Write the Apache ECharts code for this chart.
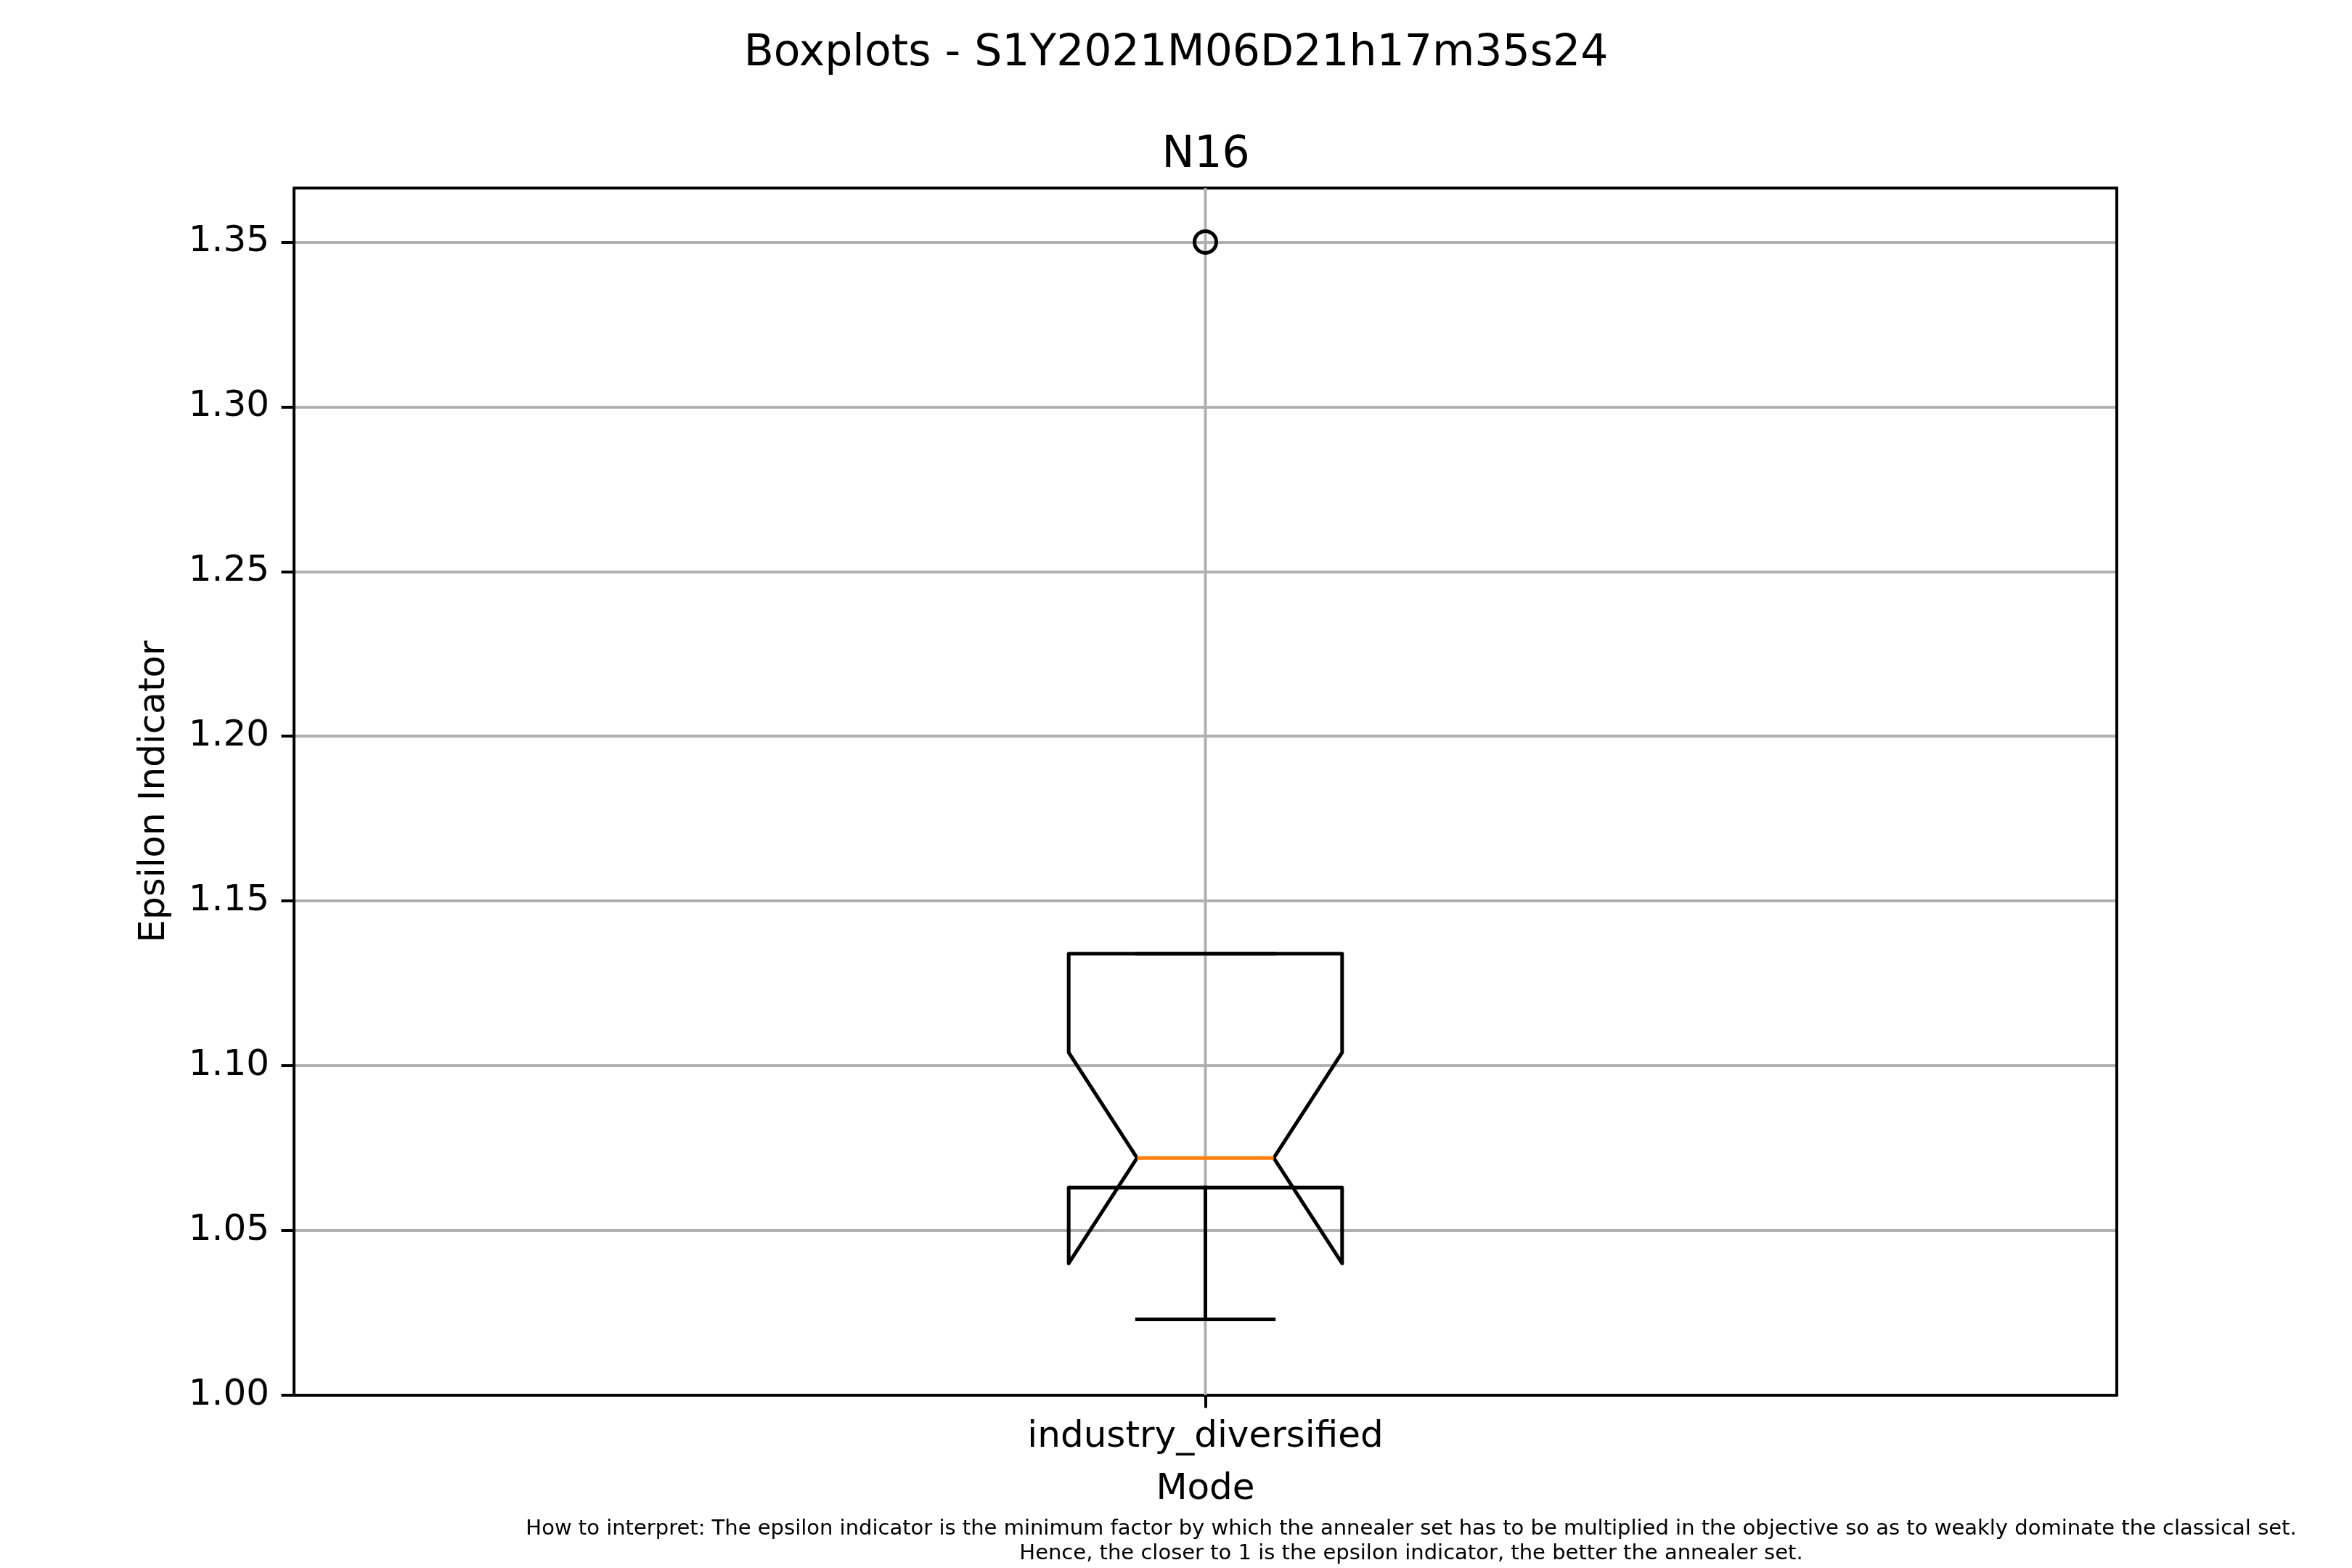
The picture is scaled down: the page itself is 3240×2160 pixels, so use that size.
<!DOCTYPE html>
<html>
<head>
<meta charset="utf-8">
<script src="https://cdn.jsdelivr.net/npm/echarts@6/dist/echarts.min.js"></script>
<style>
html, body { margin: 0; padding: 0; background: #fff; }
#chart { width: 3240px; height: 2160px; }
</style>
</head>
<body>
<div id="chart"></div>
<script>
// ---- data ----
const categories = ['industry_diversified'];
const whiskerLow  = [1.023];
const q1          = [1.063];
const median      = [1.072];
const q3          = [1.134];
const whiskerHigh = [1.134];
const notchLow    = [1.040];
const notchHigh   = [1.104];
const outliers    = [[0, 1.35]];
const yTicks = [1.00, 1.05, 1.10, 1.15, 1.20, 1.25, 1.30, 1.35];
const yMin = 1.0;
const yMax = 1.3664;

const suptitle = 'Boxplots - S1Y2021M06D21h17m35s24';
const axTitle = 'N16';
const footnote = 'How to interpret: The epsilon indicator is the minimum factor by which the annealer set has to be multiplied in the objective so as to weakly dominate the classical set.\nHence, the closer to 1 is the epsilon indicator, the better the annealer set.';

const FONT = 'DejaVu Sans';
const chart = echarts.init(document.getElementById('chart'), null, { renderer: 'canvas' });

const boxData = categories.map((c, i) => [i, whiskerLow[i], q1[i], median[i], q3[i], whiskerHigh[i], notchLow[i], notchHigh[i]]);

function renderBox(params, api) {
  const i = api.value(0);
  const bw = api.size([1, 0])[0];
  const hw = bw * 0.075;      // half box width (matplotlib width 0.15)
  const nw = bw * 0.0375;     // notch inner half width
  const cw = bw * 0.0375;     // cap half width
  const P = v => api.coord([i, v]);
  const cx = P(api.value(3))[0];
  const ywl = P(api.value(1))[1];
  const yq1 = P(api.value(2))[1];
  const ymed = P(api.value(3))[1];
  const yq3 = P(api.value(4))[1];
  const ywh = P(api.value(5))[1];
  const ynl = P(api.value(6))[1];
  const ynh = P(api.value(7))[1];
  const cs = params.coordSys;
  const blk = { stroke: '#000', lineWidth: 5, fill: null, lineJoin: 'round', lineCap: 'square' };
  return {
    type: 'group',
    children: [
      { type: 'line', shape: { x1: cx, y1: cs.y, x2: cx, y2: cs.y + cs.height }, style: { stroke: '#b0b0b0', lineWidth: 4 } },
      { type: 'line', shape: { x1: cx, y1: yq1, x2: cx, y2: ywl }, style: blk },
      { type: 'line', shape: { x1: cx, y1: yq3, x2: cx, y2: ywh }, style: blk },
      { type: 'line', shape: { x1: cx - cw, y1: ywl, x2: cx + cw, y2: ywl }, style: blk },
      { type: 'line', shape: { x1: cx - cw, y1: ywh, x2: cx + cw, y2: ywh }, style: blk },
      { type: 'polygon', shape: { points: [
          [cx - hw, yq1], [cx + hw, yq1], [cx + hw, ynl], [cx + nw, ymed], [cx + hw, ynh],
          [cx + hw, yq3], [cx - hw, yq3], [cx - hw, ynh], [cx - nw, ymed], [cx - hw, ynl]
        ] }, style: { stroke: '#000', lineWidth: 5, fill: null, lineJoin: 'round' } },
      { type: 'line', shape: { x1: cx - nw, y1: ymed, x2: cx + nw, y2: ymed }, style: { stroke: '#ff7f0e', lineWidth: 5, lineCap: 'butt' } }
    ]
  };
}

const option = {
  animation: false,
  backgroundColor: '#fff',
  title: [
    { text: suptitle, left: 1620, top: 44, textAlign: 'center', textVerticalAlign: 'top', padding: 0,
      textStyle: { fontFamily: FONT, fontSize: 60, fontWeight: 'normal', color: '#000', lineHeight: 60 } },
    { text: axTitle, left: 1661, top: 184, textAlign: 'center', textVerticalAlign: 'top', padding: 0,
      textStyle: { fontFamily: FONT, fontSize: 60, fontWeight: 'normal', color: '#000', lineHeight: 60 } },
    { text: footnote, left: 1944, top: 2089, textAlign: 'center', textVerticalAlign: 'top', padding: 0,
      textStyle: { fontFamily: FONT, fontSize: 29, fontWeight: 'normal', color: '#000', lineHeight: 34, align: 'center' } }
  ],
  grid: { left: 405, right: 324, top: 259, bottom: 238, containLabel: false, outerBoundsMode: 'none' },
  xAxis: [
    {
      type: 'category', data: categories, position: 'bottom', boundaryGap: true,
      name: 'Mode', nameLocation: 'middle', nameGap: 105,
      nameTextStyle: { fontFamily: FONT, fontSize: 50, color: '#000', lineHeight: 50 },
      axisLine: { show: true, onZero: false, lineStyle: { color: '#000', width: 4 } },
      axisTick: { show: true, alignWithLabel: true, length: 17.5, lineStyle: { color: '#000', width: 4 } },
      axisLabel: { fontFamily: FONT, fontSize: 50, color: '#000', margin: 33, lineHeight: 50 },
      splitLine: { show: false }
    },
    {
      type: 'category', data: categories, position: 'top', boundaryGap: true,
      axisLine: { show: true, onZero: false, lineStyle: { color: '#000', width: 4 } },
      axisTick: { show: false }, axisLabel: { show: false }, splitLine: { show: false }
    }
  ],
  yAxis: [
    {
      type: 'value', min: yMin, max: yMax, interval: 0.05, position: 'left',
      name: 'Epsilon Indicator', nameLocation: 'middle', nameGap: 162, nameRotate: 90,
      nameTextStyle: { fontFamily: FONT, fontSize: 50, color: '#000', lineHeight: 60 },
      axisLine: { show: true, onZero: false, lineStyle: { color: '#000', width: 4 } },
      axisTick: { show: true, length: 17.5, customValues: yTicks, lineStyle: { color: '#000', width: 4 } },
      axisLabel: { fontFamily: FONT, fontSize: 50, color: '#000', margin: 34, customValues: yTicks,
        formatter: v => Number(v).toFixed(2) },
      splitLine: { show: true, lineStyle: { color: '#b0b0b0', width: 4 } }
    },
    {
      type: 'value', min: yMin, max: yMax, position: 'right',
      axisLine: { show: true, onZero: false, lineStyle: { color: '#000', width: 4 } },
      axisTick: { show: false }, axisLabel: { show: false }, splitLine: { show: false }
    }
  ],
  series: [
    {
      type: 'custom', xAxisIndex: 0, yAxisIndex: 0, renderItem: renderBox,
      encode: { x: 0, y: [1, 2, 3, 4, 5, 6, 7] }, data: boxData, z: 3, silent: true
    },
    {
      type: 'scatter', xAxisIndex: 0, yAxisIndex: 0, data: outliers, symbol: 'circle', symbolSize: 30,
      itemStyle: { color: 'rgba(0,0,0,0)', borderColor: '#000', borderWidth: 5, opacity: 1 }, z: 4, silent: true
    }
  ]
};
chart.setOption(option);
</script>
</body>
</html>
